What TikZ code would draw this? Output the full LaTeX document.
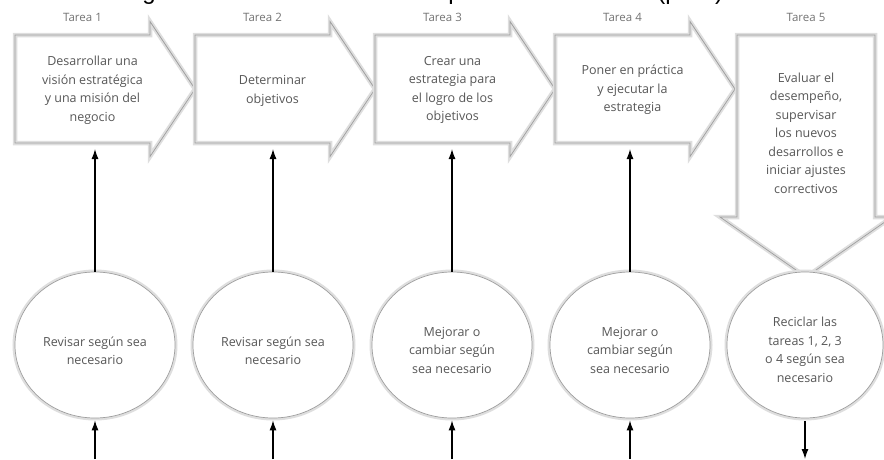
\documentclass[tikz,border=0pt]{standalone}
\usepackage{fontspec}
\setmainfont{Open Sans}
\newfontfamily\titlefont{Liberation Sans}
\usetikzlibrary{calc,arrows.meta,shapes.geometric}

% outline of a task arrow: soft light rim under a thin grey line
\tikzset{
  rim/.style={draw=black!13, line width=4.5pt, fill=white, line join=miter},
  edgeline/.style={draw=black!38, line width=0.7pt, line join=miter, preaction={rim}},
  taskbody/.style={rectangle, minimum width=135pt, minimum height=108pt, inner sep=0pt, outer sep=0pt},
  tasktext/.style={align=center, text=black!66, font=\fontsize{12.5}{18.5}\selectfont, inner sep=0pt},
  tasklabel/.style={text=black!55, font=\fontsize{11.5}{13}\selectfont, inner sep=0pt},
  ringnode/.style={ellipse, minimum width=160pt, minimum height=146pt, inner sep=0pt,
    fill=white, draw=black!38, line width=0.7pt, preaction={draw=black!13, line width=5pt}},
  conn/.style={draw=black, line width=1.3pt, -{Latex[length=10pt,width=7pt]}},
  titlefrag/.style={font=\titlefont\fontsize{24}{26}\selectfont, anchor=base, inner sep=0pt}
}

% right-pointing task arrow drawn around a body node
\newcommand\taskarrow[1]{%
  \path[edgeline] (#1.north west) -- (#1.north east) -- ($(#1.north east)+(0,-13.5)$)
    -- ($(#1.east)+(45,0)$) -- ($(#1.south east)+(0,13.5)$) -- (#1.south east)
    -- (#1.south west) -- cycle;}

\begin{document}
\begin{tikzpicture}[x=1pt,y=-1pt]
\useasboundingbox (0,0) rectangle (884,459);

% descenders of the heading line above
\node[titlefrag] (h1) at (149,-1) {g};
\node[titlefrag] (h2) at (455,-1) {p};
\node[titlefrag] (h3) at (668,-1) {(p};
\node[titlefrag] (h4) at (719,-1) {)};

% task bodies
\node[taskbody] (t1) at (82.5,89) {};
\node[taskbody] (t2) at (262.5,89) {};
\node[taskbody] (t3) at (442.5,89) {};
\node[taskbody] (t4) at (622.5,89) {};
\node[taskbody, minimum width=138pt, minimum height=182pt] (t5) at (806,126) {};

\taskarrow{t1}
\taskarrow{t2}
\taskarrow{t3}
\taskarrow{t4}
\path[edgeline] (t5.south west) -- (t5.north west) -- (t5.north east) -- (t5.south east)
  -- ($(t5.south east)+(17,0)$) -- ($(t5.south)+(0,60)$) -- ($(t5.south west)+(-17,0)$) -- cycle;

% task texts
\node[tasktext] (d1) at ($(t1.center)+(10,1)$) {Desarrollar una\\visión estratégica\\y una misión del\\negocio};
\node[tasktext] (d2) at ($(t2.center)+(10,2)$) {Determinar\\objetivos};
\node[tasktext] (d3) at ($(t3.center)+(10,1)$) {Crear una\\estrategia para\\el logro de los\\objetivos};
\node[tasktext] (d4) at ($(t4.center)+(10,1)$) {Poner en práctica\\y ejecutar la\\estrategia};
\node[tasktext] (d5) at ($(t5.center)+(0,7)$) {Evaluar el\\desempeño,\\supervisar\\los nuevos\\desarrollos e\\iniciar ajustes\\correctivos};

% task headings
\node[tasklabel] (l1) at ($(t1.north)+(0,-18)$) {Tarea 1};
\node[tasklabel] (l2) at ($(t2.north)+(0,-18)$) {Tarea 2};
\node[tasklabel] (l3) at ($(t3.north)+(0,-18)$) {Tarea 3};
\node[tasklabel] (l4) at ($(t4.north)+(0,-18)$) {Tarea 4};
\node[tasklabel] (l5) at ($(t5.north)+(0,-18)$) {Tarea 5};

% review circles
\node[ringnode] (c1) at (95,345) {};
\node[ringnode] (c2) at (273,345) {};
\node[ringnode] (c3) at (452,345) {};
\node[ringnode] (c4) at (630,345) {};
\node[ringnode, minimum width=156pt] (c5) at (805,345) {};

\node[tasktext] (r1) at ($(c1.center)+(0,6)$) {Revisar según sea\\necesario};
\node[tasktext] (r2) at ($(c2.center)+(0,6)$) {Revisar según sea\\necesario};
\node[tasktext] (r3) at ($(c3.center)+(0,5)$) {Mejorar o\\cambiar según\\sea necesario};
\node[tasktext] (r4) at ($(c4.center)+(0,5)$) {Mejorar o\\cambiar según\\sea necesario};
\node[tasktext] (r5) at ($(c5.center)+(0,5)$) {Reciclar las\\tareas 1, 2, 3\\o 4 según sea\\necesario};

% loose ends at the lower edge
\coordinate (b1) at (95,459);
\coordinate (b2) at (273,459);
\coordinate (b3) at (452,459);
\coordinate (b4) at (630,459);
\coordinate (b5) at (805,459);

% connectors
\foreach \i in {1,...,4}{
  \draw[conn, shorten >=6pt] (c\i.north) -- (c\i.north |- t\i.south);
  \draw[conn, shorten >=2pt] (b\i) -- (c\i.south);
}
\draw[conn, shorten <=3pt] (c5.south) -- (b5);
\end{tikzpicture}
\end{document}
